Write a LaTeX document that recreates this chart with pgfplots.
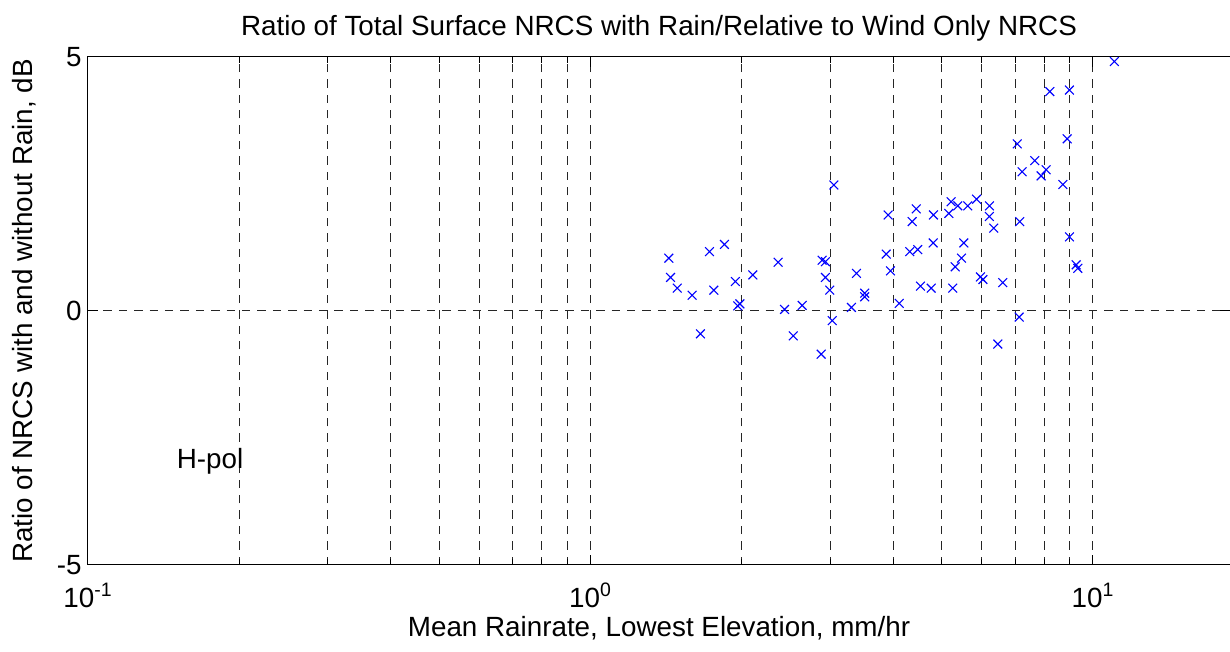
\documentclass[border=0pt]{standalone}
\usepackage{pgfplots}
\pgfplotsset{compat=1.18}
\usepackage{fontspec}
\setmainfont{Liberation Sans}
\begin{document}
\fontsize{13.9}{16}\selectfont
\begin{tikzpicture}
\begin{axis}[
  at={(0,0)}, anchor=south west,
  scale only axis, width=571pt, height=254pt,
  xmode=log, xmin=0.1, xmax=18.74, ymin=-5, ymax=5,
  xtick={0.1,1,10},
  xticklabels={10\textsuperscript{-1},10\textsuperscript{0},10\textsuperscript{1}},
  minor xtick={0.2,0.3,0.4,0.5,0.6,0.7,0.8,0.9,2,3,4,5,6,7,8,9},
  ytick={-5,0,5}, yticklabels={-5,0,5},
  xmajorgrids, xminorgrids, ymajorgrids,
  major grid style={black!85, line width=0.5pt, dash pattern=on 4.2pt off 3.5pt},
  minor grid style={black!85, line width=0.5pt, dash pattern=on 4.2pt off 3.5pt},
  axis line style={black, line width=0.5pt},
  tick align=inside, major tick length=5pt, minor tick length=3pt,
  tick style={black, line width=0.5pt},
  xticklabel style={anchor=base, inner sep=0pt, yshift=-21pt},
  yticklabel style={anchor=east, inner sep=0pt, xshift=-3pt},
  title={Ratio of Total Surface NRCS with Rain/Relative to Wind Only NRCS},
  title style={at={(0.5,1)}, anchor=base, inner sep=0pt, yshift=4.5pt},
  xlabel={Mean Rainrate, Lowest Elevation, mm/hr},
  xlabel style={at={(0.5,0)}, anchor=base, inner sep=0pt, yshift=-35.5pt},
  ylabel={Ratio of NRCS with and without Rain, dB},
  ylabel style={at={(axis description cs:-0.049,0.5)}, anchor=base, inner sep=0pt, rotate=0},
  clip=false,
]
\addplot[only marks, mark=x, mark size=3.1pt, color=blue, line width=0.55pt] table {
x y
1.432 1.04
1.443 0.66
1.488 0.45
1.594 0.31
1.655 -0.45
1.725 1.17
1.760 0.41
1.848 1.31
1.943 0.58
1.964 0.10
1.983 0.14
2.104 0.71
2.363 0.96
2.433 0.03
2.532 -0.49
2.638 0.11
3.050 2.48
2.891 1.00
2.935 0.97
2.935 0.66
2.994 0.41
3.027 -0.19
2.878 -0.85
3.383 0.74
3.514 0.35
3.514 0.28
3.306 0.07
3.912 1.89
3.877 1.12
3.954 0.79
4.115 0.15
4.448 2.01
4.367 1.76
4.319 1.17
4.480 1.21
4.536 0.49
4.764 0.45
4.815 1.89
4.808 1.34
5.222 2.15
5.165 1.92
5.383 2.07
5.635 2.07
5.865 2.20
6.223 2.07
6.223 1.86
6.347 1.63
7.149 1.76
5.533 1.34
5.474 1.04
5.319 0.87
5.260 0.45
5.972 0.67
6.041 0.62
6.614 0.56
7.130 -0.12
6.465 -0.65
11.03 4.91
8.204 4.32
8.979 4.35
7.066 3.29
8.886 3.39
7.659 2.96
7.228 2.74
8.070 2.78
7.886 2.66
8.708 2.49
8.979 1.46
9.261 0.91
9.329 0.84
};
\node[anchor=west, inner sep=0pt] at (axis cs:0.15,-2.95) {H-pol};
\end{axis}
\pgfresetboundingbox
\path[use as bounding box] (-44pt,-43.5pt) rectangle (571pt,282.5pt);
\end{tikzpicture}
\end{document}
